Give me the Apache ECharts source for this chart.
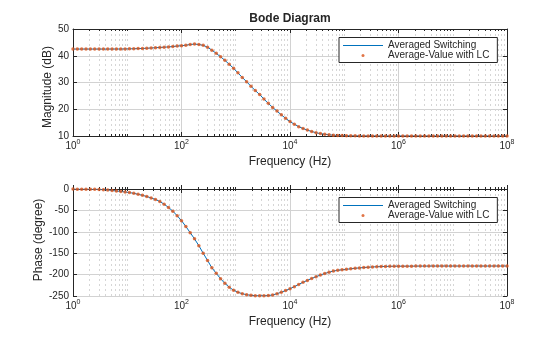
<!DOCTYPE html>
<html><head><meta charset="utf-8">
<script src="https://cdn.jsdelivr.net/npm/echarts@6/dist/echarts.min.js"></script>
<style>html,body{margin:0;padding:0;background:#fff}#c{width:560px;height:337px}</style>
</head><body><div id="c"></div>
<script>
// frequency as log10(Hz)
const freqExp = [0.00,0.08,0.16,0.24,0.32,0.40,0.48,0.56,0.64,0.72,0.80,0.88,0.96,1.04,1.12,1.20,1.28,1.36,1.44,1.52,1.60,1.68,1.76,1.84,1.92,2.00,2.08,2.16,2.24,2.32,2.40,2.48,2.56,2.64,2.72,2.80,2.88,2.96,3.04,3.12,3.20,3.28,3.36,3.44,3.52,3.60,3.68,3.76,3.84,3.92,4.00,4.08,4.16,4.24,4.32,4.40,4.48,4.56,4.64,4.72,4.80,4.88,4.96,5.04,5.12,5.20,5.28,5.36,5.44,5.52,5.60,5.68,5.76,5.84,5.92,6.00,6.08,6.16,6.24,6.32,6.40,6.48,6.56,6.64,6.72,6.80,6.88,6.96,7.04,7.12,7.20,7.28,7.36,7.44,7.52,7.60,7.68,7.76,7.84,7.92,8.00];
const magDb = [42.5,42.5,42.5,42.5,42.5,42.5,42.5,42.5,42.5,42.51,42.51,42.52,42.55,42.58,42.62,42.67,42.73,42.8,42.9,43.0,43.1,43.2,43.3,43.45,43.6,43.75,43.95,44.2,44.35,44.2,43.9,43.2,42.1,40.9,39.6,38.3,36.8,35.3,33.6,31.9,30.3,28.6,27.0,25.5,23.8,22.2,20.7,19.3,17.9,16.6,15.4,14.4,13.5,12.8,12.2,11.7,11.2,10.9,10.65,10.45,10.3,10.2,10.15,10.1,10.07,10.05,10.04,10.03,10.03,10.02,10.02,10.02,10.02,10.02,10.02,10.02,10.02,10.02,10.02,10.02,10.01,10.01,10.01,10.01,10.01,10.01,10.01,10.01,10.01,10.01,10.01,10.01,10.01,10.01,10.01,10.01,10.01,10.01,10.01,10.01,10.01];
const phaseDeg = [0,-0.3,-0.4,-0.5,-0.6,-0.8,-1.0,-1.5,-2.2,-3.3,-4.6,-5.8,-6.9,-8.3,-10.2,-12.3,-14.8,-17.6,-20.9,-24.4,-29.2,-35.5,-43,-51.7,-62.5,-74,-87.5,-102,-116.5,-132.5,-150,-167,-184,-197,-209.5,-220.5,-229.5,-236.5,-241.3,-244.6,-247,-248.5,-249.3,-249.5,-249.4,-249,-247.5,-244.7,-241.2,-237.3,-233,-228.2,-223,-218,-213.5,-209,-205,-201,-197.5,-194.3,-191.8,-190,-188.7,-187.5,-186.4,-185.3,-184.3,-183.5,-182.8,-182.1,-181.6,-181.2,-180.9,-180.7,-180.5,-180.4,-180.3,-180.25,-180.2,-180.15,-180.1,-180.1,-180.1,-180.05,-180.05,-180.05,-180.05,-180.05,-180,-180,-180,-180,-180,-180,-180,-180,-180,-180,-180,-180,-180];
const magRange = [10, 50, 10];
const phaseRange = [-250, 0, 50];
const freqRange = [1, 1e8];
const seriesNames = ['Averaged Switching', 'Average-Value with LC'];
const chartTitle = 'Bode Diagram';
const xName = 'Frequency (Hz)';
const yNames = ['Magnitude (dB)', 'Phase (degree)'];

const AX = '#262626';
const FONT = 'Liberation Sans, Arial, sans-serif';
const minorVals = [];
for (let k = 0; k < 8; k++) {
  for (let m = 1; m <= 9; m++) {
    if (m === 1 && k % 2 === 0) continue;
    minorVals.push(m * Math.pow(10, k));
  }
}
const supLabel = v => '{b|10}{s|' + Math.round(Math.log10(v)) + '}';
const labelRich = {
  b: { fontSize: 10, color: AX, lineHeight: 14, fontFamily: FONT },
  s: { fontSize: 7, color: AX, lineHeight: 7, verticalAlign: 'top', fontFamily: FONT }
};

const grids = [
  { left: 73, top: 29, width: 434, height: 107 },
  { left: 73, top: 189, width: 434, height: 107 }
];
const xAxes = [], yAxes = [], series = [], legends = [];
[0, 1].forEach(g => {
  const base = { type: 'log', logBase: 10, gridIndex: g, min: freqRange[0], max: freqRange[1] };
  xAxes.push(Object.assign({}, base, {
    position: 'bottom', interval: 2,
    axisLine: { show: true, lineStyle: { color: AX, width: 1 } },
    axisTick: { show: true, inside: true, length: 4, lineStyle: { color: AX } },
    axisLabel: { show: true, margin: 3, formatter: supLabel, rich: labelRich, hideOverlap: false, showMinLabel: true, showMaxLabel: true },
    splitLine: { show: true, lineStyle: { color: '#d2d2d2', width: 1 } },
    name: xName, nameLocation: 'middle', nameGap: 20, nameMoveOverlap: false,
    nameTextStyle: { fontSize: 12, color: AX, fontFamily: FONT }
  }));
  xAxes.push(Object.assign({}, base, {
    position: 'bottom',
    axisLine: { show: false },
    axisTick: { show: true, inside: true, length: 2, customValues: minorVals, lineStyle: { color: AX } },
    axisLabel: { show: false },
    splitLine: { show: true, lineStyle: { color: '#d6d6d6', width: 1, type: [2, 3] } }
  }));
  xAxes.push(Object.assign({}, base, {
    position: 'top', interval: 2,
    axisLine: { show: true, lineStyle: { color: AX, width: 1 } },
    axisTick: { show: true, inside: true, length: 4, lineStyle: { color: AX } },
    axisLabel: { show: false }, splitLine: { show: false }
  }));
  xAxes.push(Object.assign({}, base, {
    position: 'top',
    axisLine: { show: false },
    axisTick: { show: true, inside: true, length: 2, customValues: minorVals, lineStyle: { color: AX } },
    axisLabel: { show: false }, splitLine: { show: false }
  }));
  const r = g === 0 ? magRange : phaseRange;
  yAxes.push({
    type: 'value', gridIndex: g, position: 'left', min: r[0], max: r[1], interval: r[2],
    axisLine: { show: true, lineStyle: { color: AX, width: 1 } },
    axisTick: { show: true, inside: true, length: 4, lineStyle: { color: AX } },
    axisLabel: { show: true, margin: 4, fontSize: 10, color: AX, fontFamily: FONT, showMinLabel: true, showMaxLabel: true },
    splitLine: { show: true, lineStyle: { color: '#d2d2d2', width: 1 } },
    name: yNames[g], nameLocation: 'middle', nameGap: g === 0 ? 19 : 28, nameMoveOverlap: false,
    nameTextStyle: { fontSize: 12, color: AX, fontFamily: FONT, padding: g === 0 ? [0, 9, 0, 0] : [0, 0, 0, 5] }
  });
  yAxes.push({
    type: 'value', gridIndex: g, position: 'right', min: r[0], max: r[1], interval: r[2],
    axisLine: { show: true, lineStyle: { color: AX, width: 1 } },
    axisTick: { show: true, inside: true, length: 4, lineStyle: { color: AX } },
    axisLabel: { show: false }, splitLine: { show: false }
  });
  const vals = g === 0 ? magDb : phaseDeg;
  const data = freqExp.map((e, i) => [Math.pow(10, e), vals[i]]);
  series.push({
    type: 'line', name: seriesNames[0], xAxisIndex: 4 * g, yAxisIndex: 2 * g,
    data: data, symbol: 'none', lineStyle: { color: '#0072BD', width: 1 },
    itemStyle: { color: '#0072BD' }, animation: false, z: 3
  });
  series.push({
    type: 'scatter', name: seriesNames[1], xAxisIndex: 4 * g, yAxisIndex: 2 * g,
    data: data, symbol: 'circle', symbolSize: 3.5,
    itemStyle: { color: '#D95319' }, animation: false, z: 4
  });
  legends.push({
    orient: 'vertical', left: 339, top: g === 0 ? 37.5 : 197.5,
    itemWidth: 40, itemHeight: 3, itemGap: 0, itemTextGap: 3,
    padding: [3, 8, 2, 4],
    borderColor: AX, borderWidth: 1, backgroundColor: '#fff',
    textStyle: { fontSize: 10, color: AX, lineHeight: 10, fontFamily: FONT },
    selectedMode: false,
    data: [
      { name: seriesNames[0], icon: 'path://M0 0H40V1H0Z', itemStyle: { color: '#0072BD' } },
      { name: seriesNames[1] }
    ]
  });
});

const chart = echarts.init(document.getElementById('c'), null, { renderer: 'canvas' });
chart.setOption({
  animation: false,
  backgroundColor: '#fff',
  textStyle: { fontFamily: FONT },
  title: { text: chartTitle, left: 290, top: 13, padding: 0, textAlign: 'center',
    textStyle: { fontSize: 12, fontWeight: 'bold', color: AX, fontFamily: FONT } },
  grid: grids,
  xAxis: xAxes,
  yAxis: yAxes,
  legend: legends,
  series: series
});
</script>
</body></html>
